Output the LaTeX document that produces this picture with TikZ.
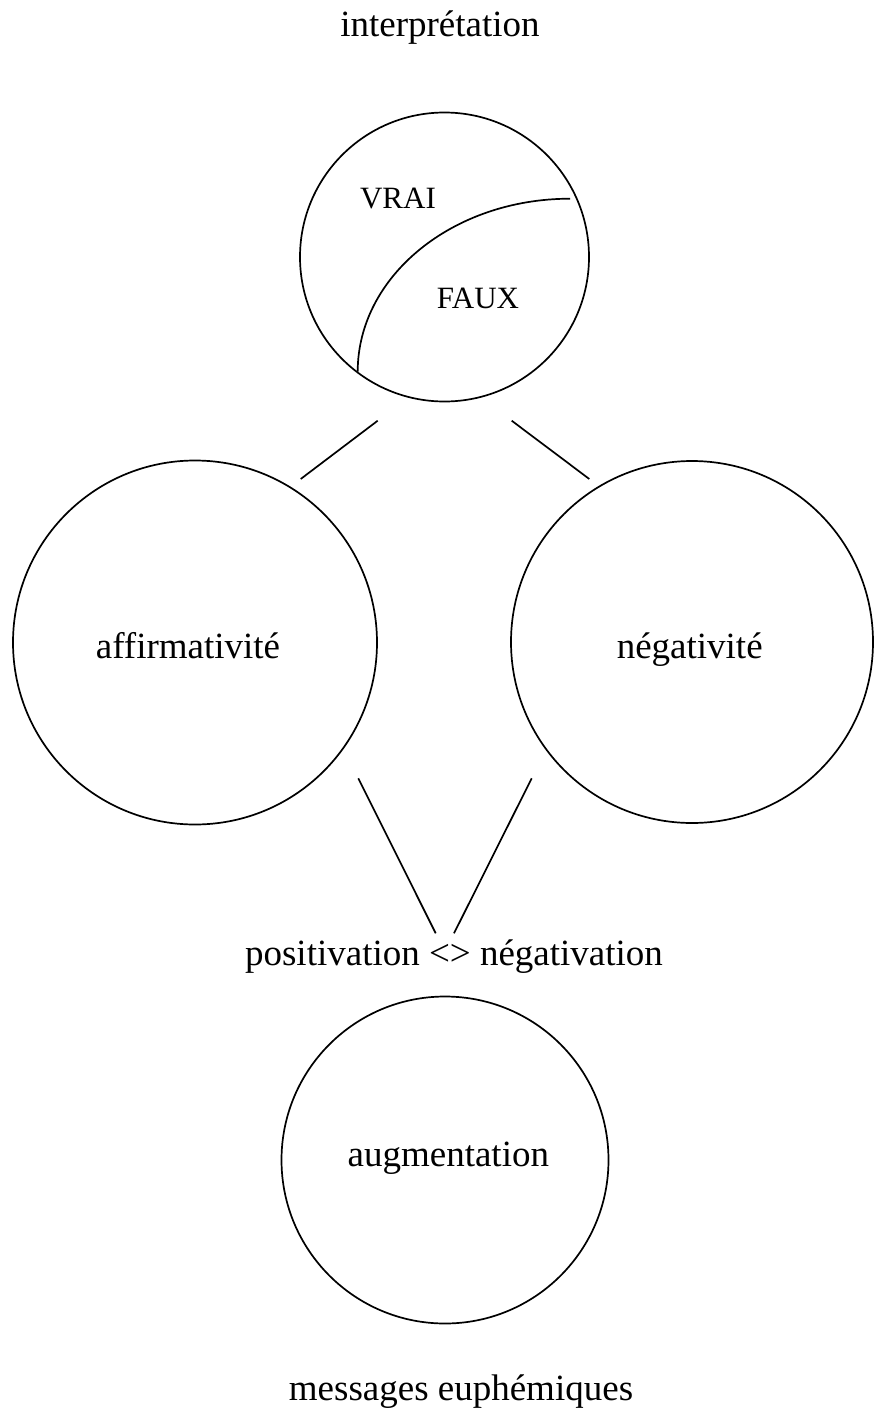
\documentclass[tikz,border=0pt]{standalone}
\usepackage{fontspec}
\setmainfont{Liberation Serif}
\begin{document}
\begin{tikzpicture}[x=1pt,y=-1pt,
  ring/.style={draw,circle,line width=1.7pt,inner sep=0pt},
  lbl/.style={anchor=base,inner sep=0pt,font=\fontsize{37}{40}\selectfont},
  slbl/.style={anchor=base,inner sep=0pt,font=\fontsize{31}{34}\selectfont},
  conn/.style={line width=1.7pt}]
\useasboundingbox (0,0) rectangle (873,1421);
% circles
\node[ring,minimum size=289pt] (top) at (444.5,257) {};
\node[ring,minimum size=364pt] (aff) at (195,642.5) {};
\node[ring,minimum size=362pt] (neg) at (692,642) {};
\node[ring,minimum size=327pt] (aug) at (445,1160) {};
% division curve inside top circle
\coordinate (cs) at (357.7,371.7);
\draw[conn] (cs) arc[start angle=180,end angle=90,x radius=212.3pt,y radius=173pt] coordinate (ce);
% texts
\node[lbl] (interp) at (440,36.7) {interprétation};
\node[slbl] (vrai) at (398,208.3) {VRAI};
\node[slbl] (faux) at (478,308.3) {FAUX};
\node[lbl] (afft) at (188,658) {affirmativité};
\node[lbl] (negt) at (689.7,658) {négativité};
\node[lbl] (pos) at (454,965) {positivation <> négativation};
\node[lbl] (augt) at (448.3,1166) {augmentation};
\node[lbl] (msg) at (461,1400) {messages euphémiques};
% connector ends
\coordinate (a1) at (377.7,420.7);
\coordinate (a2) at (300.7,479);
\coordinate (b1) at (511.7,420.7);
\coordinate (b2) at (589.3,479);
\coordinate (c1) at (358.3,778.3);
\coordinate (c2) at (435.7,933.3);
\coordinate (d1) at (531.7,778.3);
\coordinate (d2) at (454,933.3);
\draw[conn] (a1) -- (a2);
\draw[conn] (b1) -- (b2);
\draw[conn] (c1) -- (c2);
\draw[conn] (d1) -- (d2);
\end{tikzpicture}
\end{document}
